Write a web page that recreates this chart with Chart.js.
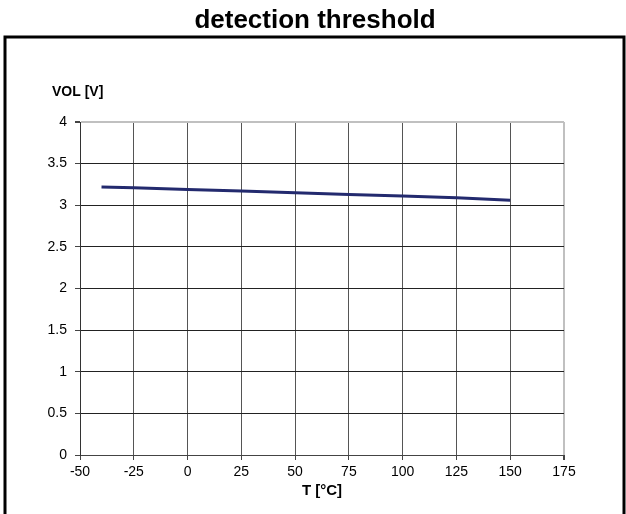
<!DOCTYPE html>
<html>
<head>
<meta charset="utf-8">
<script src="https://cdn.jsdelivr.net/npm/chart.js@4"></script>
<style>
  html, body { margin: 0; padding: 0; background: #fff; }
  #wrap { width: 626px; height: 514px; }
</style>
</head>
<body>
<div id="wrap"><canvas id="chart" width="626" height="514"></canvas></div>
<script>
// Chart data
const temps = [-40, -25, 0, 25, 50, 75, 100, 125, 150];
const volValues = [3.22, 3.21, 3.19, 3.17, 3.15, 3.13, 3.11, 3.09, 3.06];
const xTicks = [-50, -25, 0, 25, 50, 75, 100, 125, 150, 175];
const yTicks = [0, 0.5, 1, 1.5, 2, 2.5, 3, 3.5, 4];

const chartTitle = 'detection threshold';
const yAxisLabel = 'VOL [V]';
const xAxisLabel = 'T [°C]';

const FONT = '"Liberation Sans", Arial, sans-serif';

// Frame, title and the horizontal y-axis label
const decorations = {
  id: 'decorations',
  afterDraw(chart) {
    const ctx = chart.ctx;
    ctx.save();
    // frame around the plot
    ctx.strokeStyle = '#000';
    ctx.lineWidth = 3;
    ctx.beginPath();
    ctx.moveTo(5, 520);
    ctx.lineTo(5, 37);
    ctx.lineTo(624, 37);
    ctx.lineTo(624, 520);
    ctx.stroke();

    ctx.fillStyle = '#000';
    ctx.font = 'bold 26px ' + FONT;
    ctx.textAlign = 'center';
    ctx.textBaseline = 'alphabetic';
    ctx.fillText(chartTitle, 315, 28);

    ctx.font = 'bold 14px ' + FONT;
    ctx.textAlign = 'left';
    ctx.textBaseline = 'middle';
    ctx.fillText(yAxisLabel, 52, 92);
    ctx.restore();
  }
};

new Chart(document.getElementById('chart').getContext('2d'), {
  type: 'line',
  data: {
    labels: temps,
    datasets: [{
      label: 'VOL',
      data: temps.map((t, i) => ({ x: t, y: volValues[i] })),
      borderColor: '#232a6e',
      borderWidth: 3,
      pointRadius: 0,
      fill: false,
      tension: 0
    }]
  },
  options: {
    responsive: false,
    animation: false,
    layout: { padding: { top: 122, right: 62, left: 0, bottom: 0 } },
    plugins: {
      legend: { display: false },
      tooltip: { enabled: false }
    },
    scales: {
      x: {
        type: 'linear',
        min: -50,
        max: 175,
        afterBuildTicks: (scale) => { scale.ticks = xTicks.map(v => ({ value: v })); },
        afterFit: (scale) => { scale.height = 59; },
        ticks: {
          color: '#000',
          font: { family: FONT, size: 14 },
          padding: 4,
          maxRotation: 0,
          callback: (v) => String(v)
        },
        grid: {
          color: (c) => c.tick && c.tick.value === 175 ? '#c0c0c0' : '#555',
          lineWidth: (c) => c.tick && c.tick.value === 175 ? 2 : 1,
          tickLength: 5,
          tickColor: '#444'
        },
        border: { color: '#444', width: 1 },
        title: {
          display: true,
          text: xAxisLabel,
          color: '#000',
          font: { family: FONT, size: 15, weight: 'bold' },
          padding: { top: 0, bottom: 14 }
        }
      },
      y: {
        min: 0,
        max: 4,
        afterBuildTicks: (scale) => { scale.ticks = yTicks.map(v => ({ value: v })); },
        afterFit: (scale) => { scale.width = 80; },
        ticks: {
          color: '#000',
          font: { family: FONT, size: 14 },
          padding: 8,
          callback: (v) => String(v)
        },
        grid: {
          color: (c) => c.tick && c.tick.value === 4 ? '#c0c0c0' : '#222',
          lineWidth: (c) => c.tick && c.tick.value === 4 ? 2 : 1,
          tickLength: 5,
          tickColor: '#444'
        },
        border: { color: '#333', width: 1 }
      }
    }
  },
  plugins: [decorations]
});
</script>
</body>
</html>
